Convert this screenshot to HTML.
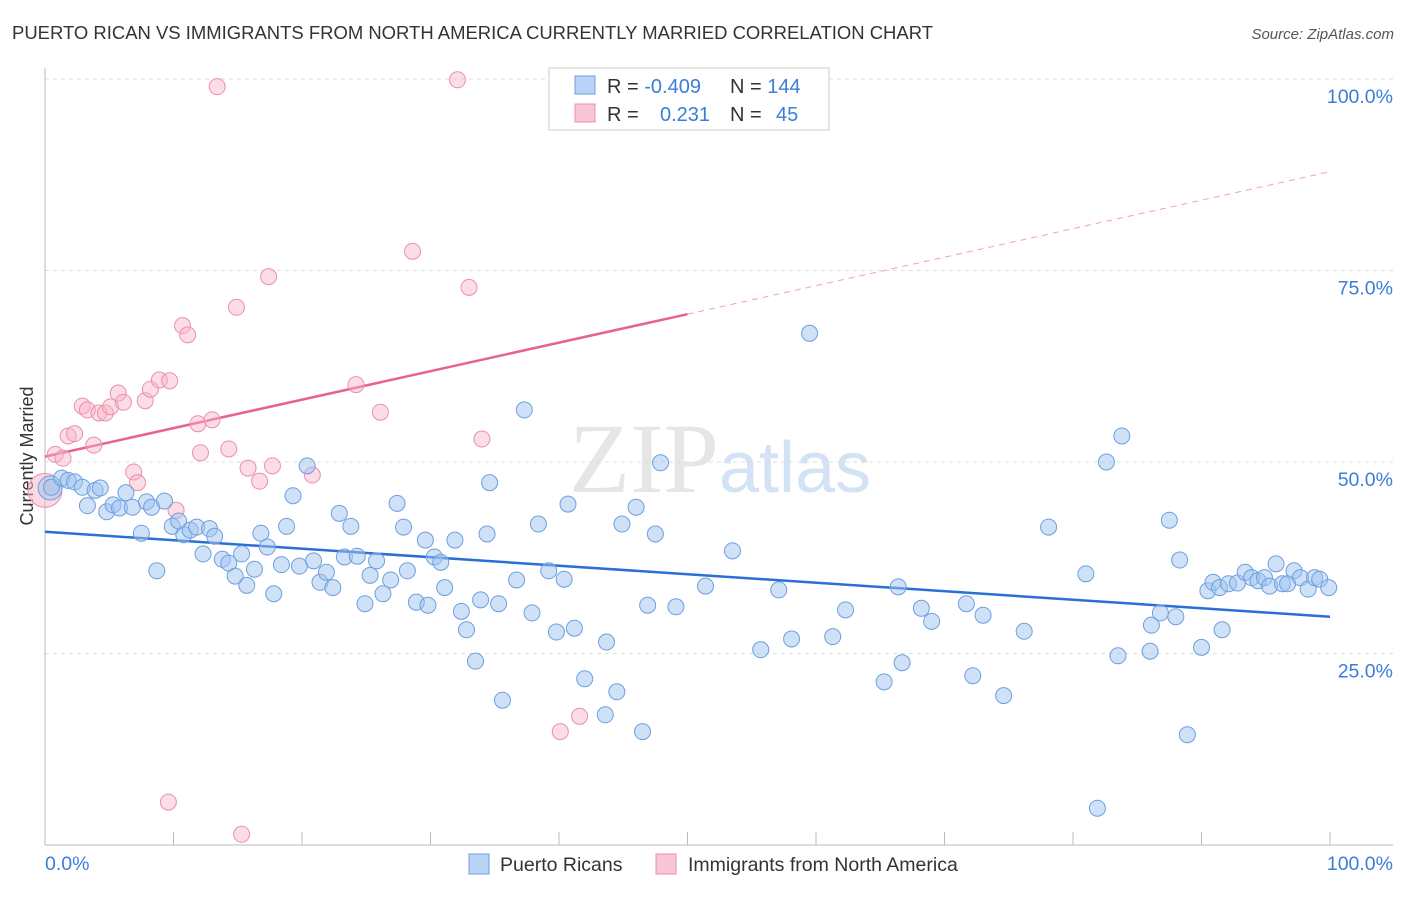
<!DOCTYPE html>
<html><head><meta charset="utf-8"><style>
body{margin:0;background:#fff;font-family:"Liberation Sans",sans-serif}
svg text{font-family:"Liberation Sans",sans-serif}
</style></head><body>
<svg id="chart" width="1406" height="892" xmlns="http://www.w3.org/2000/svg">
<text x="12" y="39" font-size="18" fill="#333" textLength="921" lengthAdjust="spacingAndGlyphs">PUERTO RICAN VS IMMIGRANTS FROM NORTH AMERICA CURRENTLY MARRIED CORRELATION CHART</text>
<text x="1394" y="39" font-size="15" fill="#555" text-anchor="end" font-style="italic">Source: ZipAtlas.com</text>
<text x="720" y="492" font-size="100" text-anchor="middle" fill="#e6e6e6" font-family="Liberation Serif"><tspan font-family="Liberation Serif">ZIP</tspan><tspan fill="#d3e2f5" font-size="72" font-family="Liberation Sans">atlas</tspan></text>
<text transform="translate(33,456) rotate(-90)" font-size="18" fill="#333" text-anchor="middle">Currently Married</text>
<g id="grid"></g><g id="axes"></g><g id="lines"></g><g id="pts"></g>
<g>
<rect x="549" y="68" width="280" height="62" fill="#fff" stroke="#ccc"/>
<rect x="575" y="76" width="20" height="18" fill="#b8d3f5" stroke="#6d9fe0"/>
<rect x="575" y="104" width="20" height="18" fill="#f8c5d4" stroke="#ec8fab"/>
<text x="607" y="93" font-size="20" fill="#333">R = <tspan fill="#3b7dd8">-0.409</tspan></text>
<text x="730" y="93" font-size="20" fill="#333">N = <tspan fill="#3b7dd8">144</tspan></text>
<text x="607" y="121" font-size="20" fill="#333">R = </text><text x="660" y="121" font-size="20" fill="#3b7dd8">0.231</text>
<text x="730" y="121" font-size="20" fill="#333">N = </text><text x="776" y="121" font-size="20" fill="#3b7dd8">45</text>
</g>
<g>
<rect x="469" y="854" width="20" height="20" fill="#b8d3f5" stroke="#6d9fe0"/>
<text x="500" y="871" font-size="19.5" fill="#333">Puerto Ricans</text>
<rect x="656" y="854" width="20" height="20" fill="#f8c5d4" stroke="#ec8fab"/>
<text x="688" y="871" font-size="19.5" fill="#333">Immigrants from North America</text>
</g>
</svg>
<script>
const blueX=[0.5,1.3,1.8,2.3,2.9,3.3,3.9,4.3,4.8,5.3,5.8,6.3,6.8,7.5,7.9,8.3,8.7,9.3,9.9,10.4,10.8,11.3,11.8,12.3,12.8,13.2,13.8,14.3,14.8,15.3,15.7,16.3,16.8,17.3,17.8,18.4,18.8,19.3,19.8,20.4,20.9,21.4,21.9,22.4,22.9,23.3,23.8,24.3,24.9,25.3,25.8,26.3,26.9,27.4,27.9,28.2,28.9,29.6,29.8,30.3,30.8,31.1,31.9,32.4,32.8,33.5,33.9,34.4,34.6,35.3,35.6,36.7,37.3,37.9,38.4,39.2,39.8,40.4,40.7,41.2,42.0,43.7,43.6,44.5,44.9,46.0,46.5,46.9,47.5,47.9,49.1,51.4,53.5,55.7,57.1,58.1,59.5,61.3,62.3,65.3,66.7,66.4,68.2,69.0,71.7,72.2,73.0,74.6,76.2,78.1,81.0,81.9,82.6,83.5,83.8,86.0,86.1,86.8,87.5,88.0,88.3,88.9,90.0,90.5,90.9,91.4,91.6,92.1,92.8,93.4,93.9,94.4,94.9,95.3,95.8,96.3,96.7,97.2,97.7,98.3,98.8,99.2,99.9];
const blueY=[46.7,47.9,47.6,47.4,46.7,44.3,46.3,46.6,43.5,44.4,44.0,46.0,44.1,40.7,44.8,44.1,35.8,44.9,41.6,42.3,40.5,41.1,41.5,38.0,41.3,40.3,37.3,36.8,35.1,38.0,33.9,36.0,40.7,38.9,32.8,36.6,41.6,45.6,36.4,49.5,37.1,34.3,35.6,33.6,43.3,37.6,41.6,37.7,31.5,35.2,37.1,32.8,34.6,44.6,41.5,35.8,31.7,39.8,31.3,37.6,36.9,33.6,39.8,30.5,28.1,24.0,32.0,40.6,47.3,31.5,18.9,34.6,56.8,30.3,41.9,35.8,27.8,34.7,44.5,28.3,21.7,26.5,17.0,20.0,41.9,44.1,14.8,31.3,40.6,49.9,31.1,33.8,38.4,25.5,33.3,26.9,66.8,27.2,30.7,21.3,23.8,33.7,30.9,29.2,31.5,22.1,30.0,19.5,27.9,41.5,35.4,4.8,50.0,24.7,53.4,25.3,28.7,30.3,42.4,29.8,37.2,14.4,25.8,33.2,34.3,33.6,28.1,34.1,34.2,35.6,34.9,34.5,34.9,33.8,36.7,34.1,34.1,35.8,34.9,33.4,34.9,34.7,33.6];
const pinkX=[0.8,1.4,1.8,2.3,2.9,3.3,3.8,4.2,4.7,5.1,5.7,6.1,6.9,7.2,7.8,8.2,8.9,9.7,10.2,10.7,11.1,11.9,12.1,13.0,13.4,14.3,14.9,15.8,16.7,17.4,17.7,20.8,24.2,26.1,28.6,32.1,33.0,34.0,40.1,41.6,9.6,15.3,47.5];
const pinkY=[51.0,50.5,53.4,53.7,57.3,56.8,52.2,56.4,56.4,57.2,59.0,57.8,48.7,47.3,58.0,59.5,60.7,60.6,43.7,67.8,66.6,55.0,51.2,55.5,99.0,51.7,70.2,49.2,47.5,74.2,49.5,48.3,60.1,56.5,77.5,99.9,72.8,53.0,14.8,16.8,5.6,1.4,99.9];
const blueLine=[40.9,29.8];
const pinkLine=[50.7,87.9];
const yTicks=[25,50,75,100];
const yTickLabels=["25.0%","50.0%","75.0%","100.0%"];
const xTicks=[0,10,20,30,40,50,60,70,80,90,100];
const NS="http://www.w3.org/2000/svg";
const sx=v=>45+v*12.85, sy=v=>845-v*7.66;
function mk(t,a,p){const e=document.createElementNS(NS,t);for(const k in a)e.setAttribute(k,a[k]);p.appendChild(e);return e;}
const grid=document.getElementById('grid'),axes=document.getElementById('axes'),lines=document.getElementById('lines'),pts=document.getElementById('pts');
yTicks.forEach((v,i)=>{
 const g=mk('line',{x1:45,x2:1393,y1:sy(v),y2:sy(v),stroke:'#ddd','stroke-dasharray':'4,4'},grid);
 
 
 const t=mk('text',{x:1393,y:sy(v)+24,'font-size':19.5,fill:'#3b7dd8','text-anchor':'end'},axes);
 t.textContent=yTickLabels[i];
 
 
});
const ya=mk('line',{x1:45,x2:45,y1:68,y2:845,stroke:'#bbb'},axes);


const xa=mk('line',{x1:45,x2:1393,y1:845,y2:845,stroke:'#bbb'},axes);


xTicks.forEach(v=>{
 const t=mk('line',{x1:sx(v),x2:sx(v),y1:832,y2:845,stroke:'#bbb'},axes);
 
 
});
const xl0=mk('text',{x:45,y:870,'font-size':19.5,fill:'#3b7dd8'},axes);xl0.textContent='0.0%';


const xl1=mk('text',{x:1393,y:870,'font-size':19.5,fill:'#3b7dd8','text-anchor':'end'},axes);xl1.textContent='100.0%';


const py=x=>pinkLine[0]+(pinkLine[1]-pinkLine[0])*x/100;
const pl1=mk('line',{x1:sx(0),y1:sy(py(0)),x2:sx(50),y2:sy(py(50)),stroke:'#e8628e','stroke-width':2.5},lines);


const pl2=mk('line',{x1:sx(50),y1:sy(py(50)),x2:sx(100),y2:sy(py(100)),stroke:'#f0a0ba','stroke-width':1,'stroke-dasharray':'6,5'},lines);


const bl=mk('line',{x1:sx(0),y1:sy(blueLine[0]),x2:sx(100),y2:sy(blueLine[1]),stroke:'#2a6fd6','stroke-width':2.5},lines);


const bigP=mk('circle',{cx:sx(0),cy:sy(46.3),r:17,fill:'rgba(248,180,200,0.5)',stroke:'#ec8fab'},pts);


const bigB=mk('circle',{cx:sx(0.4),cy:sy(46.6),r:12,fill:'rgba(160,196,240,0.5)',stroke:'#6d9fe0'},pts);


pinkX.forEach((x,i)=>{
 const c=mk('circle',{cx:sx(x),cy:sy(pinkY[i]),r:8,fill:'rgba(248,180,200,0.45)',stroke:'#ec8fab','stroke-width':1},pts);
 
 
});
blueX.forEach((x,i)=>{
 const c=mk('circle',{cx:sx(x),cy:sy(blueY[i]),r:8,fill:'rgba(160,196,240,0.5)',stroke:'#6d9fe0','stroke-width':1},pts);
 
 
});
</script>
</body></html>
